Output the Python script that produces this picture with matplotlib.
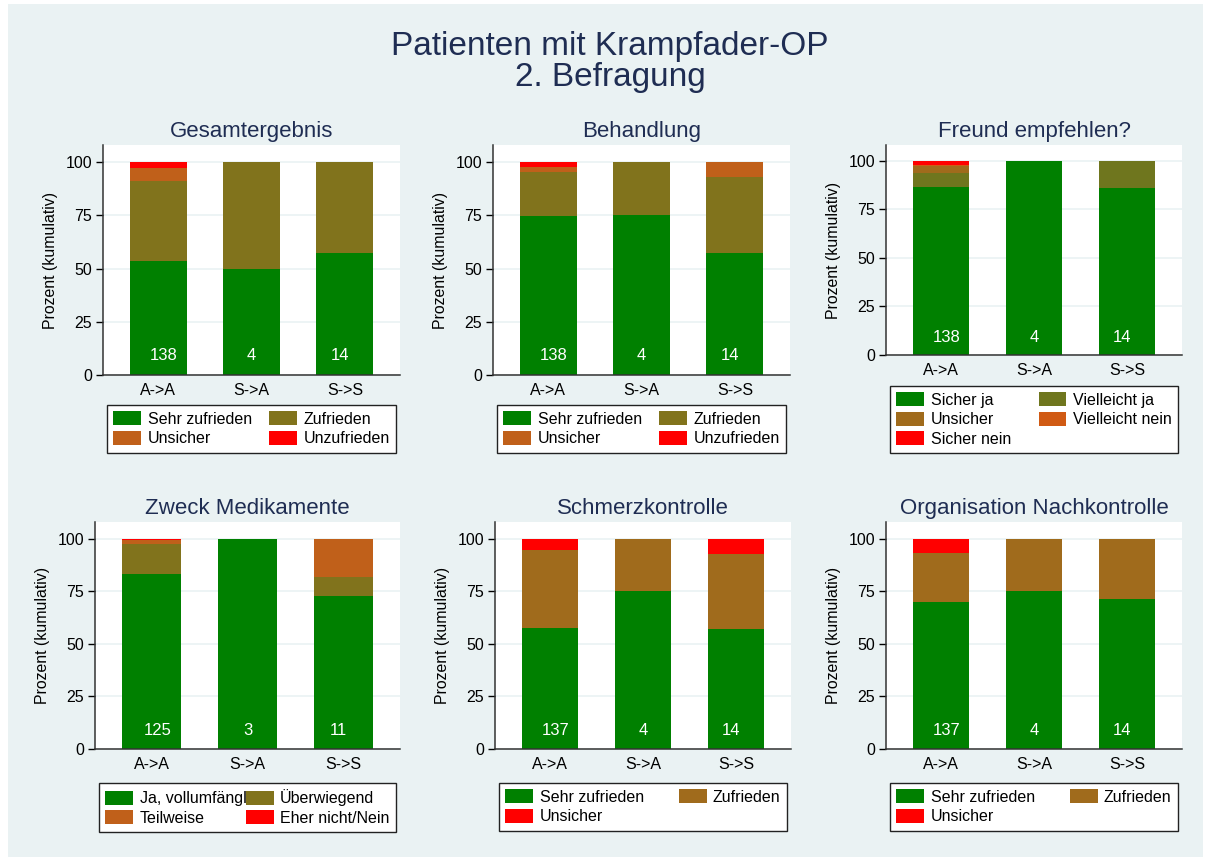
import numpy as np
import matplotlib
matplotlib.use('Agg')
import matplotlib.pyplot as plt
from matplotlib.patches import Patch, Rectangle

plt.rcParams['font.family'] = ['Liberation Sans', 'DejaVu Sans']

groups = ['A->A', 'S->A', 'S->S']

# Gesamtergebnis
gesamt_labels = ['Sehr zufrieden', 'Zufrieden', 'Unsicher', 'Unzufrieden']
gesamt_pct = [[53.6, 50.0, 57.1],
              [37.7, 50.0, 42.9],
              [5.8, 0.0, 0.0],
              [2.9, 0.0, 0.0]]
gesamt_n = [138, 4, 14]

# Behandlung
behandlung_labels = ['Sehr zufrieden', 'Zufrieden', 'Unsicher', 'Unzufrieden']
behandlung_pct = [[74.6, 75.0, 57.1],
                  [20.7, 25.0, 35.7],
                  [2.5, 0.0, 7.2],
                  [2.2, 0.0, 0.0]]
behandlung_n = [138, 4, 14]

# Freund empfehlen?
freund_labels = ['Sicher ja', 'Vielleicht ja', 'Unsicher', 'Vielleicht nein', 'Sicher nein']
freund_pct = [[86.2, 100.0, 85.7],
              [7.3, 0.0, 14.3],
              [3.6, 0.0, 0.0],
              [0.7, 0.0, 0.0],
              [2.2, 0.0, 0.0]]
freund_n = [138, 4, 14]

# Zweck Medikamente
zweck_labels = ['Ja, vollumfänglich', 'Überwiegend', 'Teilweise', 'Eher nicht/Nein']
zweck_pct = [[83.2, 100.0, 72.7],
             [14.4, 0.0, 9.1],
             [1.6, 0.0, 18.2],
             [0.8, 0.0, 0.0]]
zweck_n = [125, 3, 11]

# Schmerzkontrolle
schmerz_labels = ['Sehr zufrieden', 'Zufrieden', 'Unsicher']
schmerz_pct = [[57.7, 75.0, 57.1],
               [37.2, 25.0, 35.8],
               [5.1, 0.0, 7.1]]
schmerz_n = [137, 4, 14]

# Organisation Nachkontrolle
org_labels = ['Sehr zufrieden', 'Zufrieden', 'Unsicher']
org_pct = [[70.1, 75.0, 71.4],
           [23.3, 25.0, 28.6],
           [6.6, 0.0, 0.0]]
org_n = [137, 4, 14]

colors_by_k = {
    3: ['#008000', '#A06B1C', '#FF0000'],
    4: ['#008000', '#81731C', '#C0601A', '#FF0000'],
    5: ['#008000', '#6F761E', '#A06B1C', '#D05A14', '#FF0000'],
}

bg = '#EAF2F3'
navy = '#1F2D53'
W, H = 1211, 861

fig = plt.figure(figsize=(W / 100, H / 100), dpi=100, facecolor='white')
fig.patches.append(Rectangle((8 / W, 4 / H), 1195 / W, 853 / H,
                             transform=fig.transFigure, facecolor=bg,
                             edgecolor='none', zorder=-10))

fig.text(610 / W, 1 - 62 / H, 'Patienten mit Krampfader-OP\n2. Befragung',
         ha='center', va='center', fontsize=24, color=navy, linespacing=1.0)

# axes boxes in pixels: left, top, right, bottom
panels = [
    ('Gesamtergebnis', gesamt_labels, gesamt_pct, gesamt_n, (103, 145, 400, 375), 405),
    ('Behandlung', behandlung_labels, behandlung_pct, behandlung_n, (493, 145, 790, 375), 405),
    ('Freund empfehlen?', freund_labels, freund_pct, freund_n, (886, 145, 1182, 355), 386),
    ('Zweck Medikamente', zweck_labels, zweck_pct, zweck_n, (95, 522, 400, 749), 783),
    ('Schmerzkontrolle', schmerz_labels, schmerz_pct, schmerz_n, (495, 522, 791, 749), 783),
    ('Organisation Nachkontrolle', org_labels, org_pct, org_n, (886, 522, 1182, 749), 783),
]

x = np.arange(len(groups))
label_dx = [0.06, 0.0, -0.05]
for title, labels, pct, n, (l, t, r, b), leg_top in panels:
    ax = fig.add_axes([l / W, 1 - b / H, (r - l) / W, (b - t) / H])
    ax.set_facecolor('white')
    cols = colors_by_k[len(labels)]
    bottom = np.zeros(len(groups))
    handles = []
    for vals, lab, c in zip(pct, labels, cols):
        vals = np.array(vals)
        ax.bar(x, vals, width=0.61, bottom=bottom, color=c, edgecolor='none', zorder=2)
        bottom += vals
        handles.append(Patch(facecolor=c, edgecolor='none', label=lab))
    for xi, dx, cnt in zip(x, label_dx, n):
        ax.text(xi + dx, 9, str(cnt), ha='center', va='center', color='white',
                fontsize=12, zorder=3)

    ax.set_xlim(-0.59, 2.59)
    ax.set_ylim(0, 108)
    ax.set_yticks([0, 25, 50, 75, 100])
    ax.set_xticks(x)
    ax.set_xticklabels(groups)
    ax.tick_params(axis='x', length=0, pad=6, labelsize=11.5)
    ax.tick_params(axis='y', length=5, width=1, labelsize=11.5, pad=3)
    ax.yaxis.grid(True, color=bg, linewidth=1.2, zorder=0)
    ax.set_axisbelow(True)
    for s in ['top', 'right']:
        ax.spines[s].set_visible(False)
    for s in ['left', 'bottom']:
        ax.spines[s].set_color('#333333')
        ax.spines[s].set_linewidth(1.1)
    ax.set_ylabel('Prozent (kumulativ)', fontsize=11.4, labelpad=5)
    ax.set_title(title, fontsize=16, color=navy, pad=6)

    # row-major legend order for 2 columns
    order = handles[0::2] + handles[1::2]
    ax_h = b - t
    ax_w = r - l
    leg = ax.legend(handles=order, ncol=2, mode='expand', loc='upper left',
                    bbox_to_anchor=(4 / ax_w, -(leg_top - b) / ax_h, (ax_w - 8) / ax_w, 0),
                    fontsize=11.5, frameon=True, fancybox=False, framealpha=1,
                    edgecolor='#222222', handlelength=1.75, handleheight=0.95,
                    handletextpad=0.4, labelspacing=0.25, columnspacing=0.6,
                    borderpad=0.4, borderaxespad=0)
    leg.get_frame().set_linewidth(1.0)

fig.savefig('out.png', dpi=100, facecolor=fig.get_facecolor())
